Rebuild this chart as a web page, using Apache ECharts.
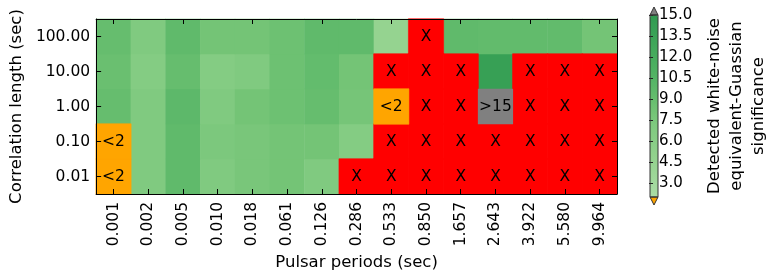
<!DOCTYPE html>
<html>
<head>
<meta charset="utf-8">
<script src="https://cdn.jsdelivr.net/npm/echarts@6/dist/echarts.min.js"></script>
<style>html,body{margin:0;padding:0;background:#fff}#c{width:771px;height:277px}</style>
</head>
<body>
<div id="c"></div>
<script>
// ---- data ----
var periods = ['0.001','0.002','0.005','0.010','0.018','0.061','0.126','0.286','0.533','0.850','1.657','2.643','3.922','5.580','9.964'];
var corrLengths = ['0.01','0.10','1.00','10.00','100.00'];
// 'X' = not detected, '<2' = below colour scale, '>15' = above colour scale
var sig001 = ['<2', 7.0, 9.5, 7.0, 7.6, 8.0, 7.0, 'X', 'X', 'X', 'X', 'X', 'X', 'X', 'X'];
var sig010 = ['<2', 7.0, 9.5, 7.3, 7.6, 8.0, 8.0, 6.5, 'X', 'X', 'X', 'X', 'X', 'X', 'X'];
var sig1   = [9.0, 7.0, 9.7, 7.0, 8.0, 8.5, 9.0, 7.8, '<2', 'X', 'X', '>15', 'X', 'X', 'X'];
var sig10  = [8.7, 6.5, 9.0, 6.5, 7.0, 8.5, 9.2, 8.0, 'X', 'X', 'X', 14.0, 'X', 'X', 'X'];
var sig100 = [9.0, 7.0, 9.5, 8.0, 8.0, 8.5, 9.5, 9.5, 4.5, 'X', 9.5, 9.3, 9.3, 9.3, 8.0];
var sigRows = [sig001, sig010, sig1, sig10, sig100];
var cbTicks = [3.0, 4.5, 6.0, 7.5, 9.0, 10.5, 12.0, 13.5, 15.0];
var cbMin = 2, cbMax = 15;

var mainData = [], xData = [], lowData = [], highData = [];
sigRows.forEach(function(row, j){
  row.forEach(function(v, i){
    if (v === 'X') xData.push([i, j, 1]);
    else if (v === '<2') lowData.push([i, j, 1]);
    else if (v === '>15') highData.push([i, j, 1]);
    else mainData.push([i, j, v]);
  });
});

var FONT = 'DejaVu Sans';
var TICK_FS = 15.5, TITLE_FS = 16.5;
var G = {left: 94, top: 19, width: 523, height: 175};
var CB = {left: 650, top: 15, width: 8, height: 182};
var tri = 8;

var chart = echarts.init(document.getElementById('c'), null, {renderer: 'canvas'});
var lbl = function(t){ return {show: true, formatter: t, color: '#000', fontSize: 15.5, fontFamily: FONT}; };
var catAxisCommon = {
  type: 'category', gridIndex: 0, z: 10,
  axisLine: {show: true, lineStyle: {color: '#000', width: 1}},
  axisTick: {show: true, inside: true, length: 5, alignWithLabel: true, lineStyle: {color: '#000'}},
  splitLine: {show: false}
};

chart.setOption({
  animation: false,
  textStyle: {fontFamily: FONT},
  grid: [
    {left: G.left, top: G.top, width: G.width, height: G.height},
    {left: CB.left, top: CB.top, width: CB.width, height: CB.height}
  ],
  xAxis: [
    Object.assign({}, catAxisCommon, {
      data: periods, position: 'bottom',
      axisLabel: {rotate: 90, color: '#000', fontSize: TICK_FS, fontFamily: FONT, margin: 8},
      name: 'Pulsar periods (sec)', nameLocation: 'middle', nameGap: 59,
      nameTextStyle: {color: '#000', fontSize: TITLE_FS, fontFamily: FONT}
    }),
    Object.assign({}, catAxisCommon, {data: periods, position: 'top', axisLabel: {show: false}}),
    {type: 'category', gridIndex: 1, data: [''], show: false}
  ],
  yAxis: [
    Object.assign({}, catAxisCommon, {
      data: corrLengths, position: 'left',
      axisLabel: {color: '#000', fontSize: TICK_FS, fontFamily: FONT, margin: 6},
      name: 'Correlation length (sec)', nameLocation: 'middle', nameGap: 70, nameRotate: 90,
      nameTextStyle: {color: '#000', fontSize: TITLE_FS, fontFamily: FONT}
    }),
    Object.assign({}, catAxisCommon, {data: corrLengths, position: 'right', axisLabel: {show: false}}),
    {
      type: 'value', gridIndex: 1, min: cbMin, max: cbMax, position: 'right', z: 10,
      axisLine: {show: false},
      splitLine: {show: false},
      axisTick: {show: true, inside: true, length: 4, customValues: cbTicks, lineStyle: {color: '#222'}},
      axisLabel: {color: '#000', fontSize: 15, fontFamily: FONT, margin: 6, customValues: cbTicks,
        formatter: function(v){ return v.toFixed(1); }},
      name: 'Detected white-noise\nequivalent-Guassian\nsignificance',
      nameLocation: 'middle', nameGap: 51, nameRotate: 90,
      nameTextStyle: {color: '#000', fontSize: TITLE_FS, fontFamily: FONT, lineHeight: 22, align: 'center'}
    }
  ],
  visualMap: {
    type: 'continuous', min: cbMin, max: cbMax, seriesIndex: 0,
    left: CB.left, top: CB.top, itemWidth: CB.width, itemHeight: CB.height,
    padding: 0, calculable: false, hoverLink: false, text: null, showLabel: false,
    inRange: {color: ['#aadda5','#a2d99d','#99d594','#91d18c','#88cd86','#80ca80','#74c476','#66bd6e','#59b668','#4fb162','#47ac5e','#3fa659','#37a055','#2f9a50']}
  },
  graphic: [
    {type: 'polygon', z: 100, shape: {points: [[CB.left, CB.top], [CB.left + CB.width/2, CB.top - tri], [CB.left + CB.width, CB.top]]},
      style: {fill: '#808080', stroke: '#333', lineWidth: 1}},
    {type: 'polygon', z: 100, shape: {points: [[CB.left, CB.top + CB.height], [CB.left + CB.width/2, CB.top + CB.height + tri], [CB.left + CB.width, CB.top + CB.height]]},
      style: {fill: '#ffa500', stroke: '#333', lineWidth: 1}},
    {type: 'rect', z: 100, shape: {x: CB.left, y: CB.top, width: CB.width, height: CB.height},
      style: {fill: null, stroke: '#333', lineWidth: 1}}
  ],
  series: [
    {type: 'heatmap', xAxisIndex: 0, yAxisIndex: 0, data: mainData},
    {type: 'heatmap', xAxisIndex: 0, yAxisIndex: 0, data: xData, itemStyle: {color: '#ff0000', borderColor: '#ff0000', borderWidth: 0.6}, label: lbl('X')},
    {type: 'heatmap', xAxisIndex: 0, yAxisIndex: 0, data: lowData, itemStyle: {color: '#ffa500', borderColor: '#ffa500', borderWidth: 0.6}, label: lbl('<2')},
    {type: 'heatmap', xAxisIndex: 0, yAxisIndex: 0, data: highData, itemStyle: {color: '#808080'}, label: lbl('>15')}
  ]
});
</script>
</body>
</html>
